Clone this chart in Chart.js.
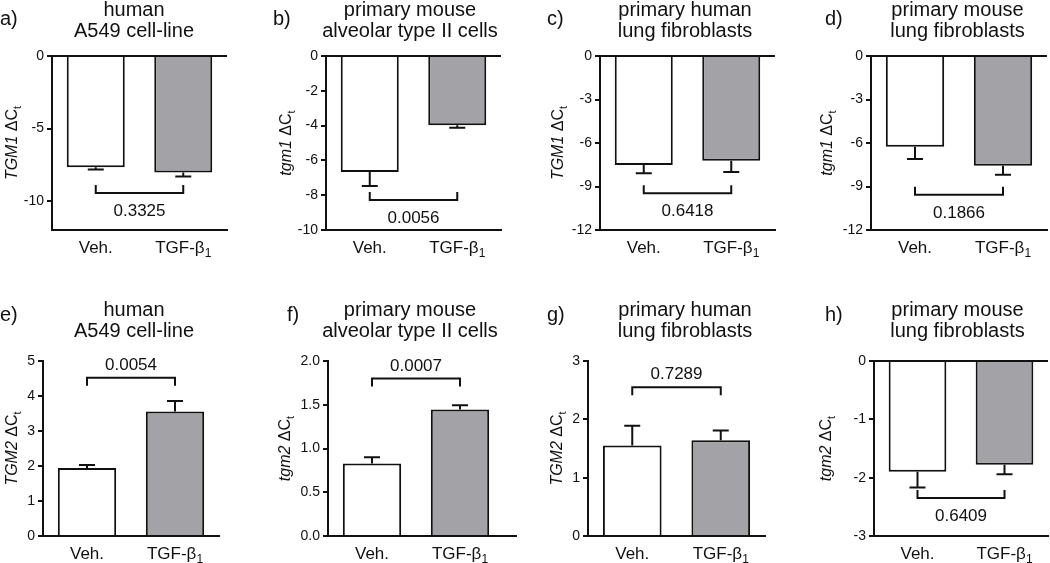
<!DOCTYPE html>
<html><head><meta charset="utf-8">
<script src="https://cdn.jsdelivr.net/npm/chart.js@4.4.1/dist/chart.umd.min.js"></script>
<style>
html,body{margin:0;padding:0;background:#fff;}
body{width:1050px;height:563px;overflow:hidden;position:relative;}
canvas{position:absolute;}
</style>
</head><body>
<script>
// ---------------- DATA ----------------
const categories = ['Veh.', 'TGF-β1'];
const categoryMain = ['Veh.', 'TGF-β'];
const categorySub = ['', '1'];
const panelLetters = ['a)', 'b)', 'c)', 'd)', 'e)', 'f)', 'g)', 'h)'];
const titleLine1 = ['human', 'primary mouse', 'primary human', 'primary mouse', 'human', 'primary mouse', 'primary human', 'primary mouse'];
const titleLine2 = ['A549 cell-line', 'alveolar type II cells', 'lung fibroblasts', 'lung fibroblasts', 'A549 cell-line', 'alveolar type II cells', 'lung fibroblasts', 'lung fibroblasts'];
const geneLabels = ['TGM1', 'tgm1', 'TGM1', 'tgm1', 'TGM2', 'tgm2', 'TGM2', 'tgm2'];
const vehMeans  = [-7.68, -6.67, -7.52, -6.25, 1.94, 0.83, 1.55, -1.90];
const vehErrors = [0.14, 0.80, 0.57, 0.85, 0.09, 0.07, 0.34, 0.27];
const tgfMeans  = [-8.03, -3.98, -7.22, -7.57, 3.56, 1.445, 1.64, -1.78];
const tgfErrors = [0.28, 0.14, 0.78, 0.62, 0.30, 0.05, 0.17, 0.16];
const pValues = ['0.3325', '0.0056', '0.6418', '0.1866', '0.0054', '0.0007', '0.7289', '0.6409'];
const bracketLevels = [-9.44, -8.28, -9.47, -9.57, 4.52, 1.80, 2.55, -2.35];
const yMins = [-12, -10, -12, -12, 0, 0, 0, -3];
const yMaxs = [0, 0, 0, 0, 5, 2, 3, 0];
const yTickValues = [
  [0, -5, -10],
  [0, -2, -4, -6, -8, -10],
  [0, -3, -6, -9, -12],
  [0, -3, -6, -9, -12],
  [0, 1, 2, 3, 4, 5],
  [0, 0.5, 1, 1.5, 2],
  [0, 1, 2, 3],
  [0, -1, -2, -3]
];
const yTickDecimals = [0, 0, 0, 0, 0, 1, 0, 0];

// ---------------- LAYOUT / STYLE ----------------
const FONT = '"Liberation Sans", Arial, Helvetica, sans-serif';
const INK = '#111';
const GREY = '#a3a3a7';
const layouts = [
  {cx:0,   cy:0,   cw:262, ch:280, L:52,  R:227,  T:56,  B:230, ext:0,  titleX:134,   letterX:0,   yTitleX:11},
  {cx:262, cy:0,   cw:262, ch:280, L:326, R:501,  T:56,  B:230, ext:0,  titleX:410,   letterX:273, yTitleX:285},
  {cx:524, cy:0,   cw:262, ch:280, L:600, R:775,  T:56,  B:230, ext:0,  titleX:685,   letterX:547, yTitleX:557},
  {cx:786, cy:0,   cw:264, ch:280, L:871, R:1047, T:56,  B:230, ext:0,  titleX:957.5, letterX:825, yTitleX:826},
  {cx:0,   cy:280, cw:262, ch:283, L:43,  R:219,  T:361, B:536, ext:0,  titleX:134,   letterX:0,   yTitleX:11},
  {cx:262, cy:280, cw:262, ch:283, L:328, R:504,  T:361, B:536, ext:13, titleX:410,   letterX:287, yTitleX:283.5},
  {cx:524, cy:280, cw:262, ch:283, L:588, R:765,  T:361, B:536, ext:0,  titleX:685,   letterX:547, yTitleX:556},
  {cx:786, cy:280, cw:264, ch:283, L:874, R:1048, T:361, B:536, ext:0,  titleX:957.5, letterX:825, yTitleX:825}
];
const titleBaselines = [[16, 37], [316, 337]];
const letterBaselines = [25, 321];

function drawYTitle(ctx, x, y, gene) {
  ctx.save();
  ctx.translate(x, y);
  ctx.rotate(-Math.PI / 2);
  const f1 = 'italic 16px ' + FONT, f2 = '16px ' + FONT, f3 = '11px ' + FONT;
  ctx.font = f1; const w1 = ctx.measureText(gene + ' ').width;
  ctx.font = f2; const w2 = ctx.measureText('ΔC').width;
  ctx.font = f3; const w3 = ctx.measureText('t').width;
  let sx = -(w1 + w2 + w3) / 2;
  const by = 6;
  ctx.textAlign = 'left'; ctx.textBaseline = 'alphabetic'; ctx.fillStyle = INK;
  ctx.font = f1; ctx.fillText(gene + ' ', sx, by); sx += w1;
  ctx.font = f2; ctx.fillText('ΔC', sx, by); sx += w2;
  ctx.font = f3; ctx.fillText('t', sx, by + 4);
  ctx.restore();
}

function makeDecor(idx) {
  const lay = layouts[idx];
  const row = idx < 4 ? 0 : 1;
  return {
    id: 'decor' + idx,
    afterDraw(chart) {
      const ctx = chart.ctx;
      const xs = chart.scales.x, ys = chart.scales.y;
      const ox = lay.cx, oy = lay.cy;
      ctx.save();
      ctx.fillStyle = INK; ctx.strokeStyle = INK;
      // panel letter
      ctx.font = '20px ' + FONT; ctx.textAlign = 'left'; ctx.textBaseline = 'alphabetic';
      ctx.fillText(panelLetters[idx], lay.letterX - ox, letterBaselines[row] - oy);
      // title
      ctx.textAlign = 'center';
      ctx.fillText(titleLine1[idx], lay.titleX - ox, titleBaselines[row][0] - oy);
      ctx.fillText(titleLine2[idx], lay.titleX - ox, titleBaselines[row][1] - oy);
      // y title
      drawYTitle(ctx, lay.yTitleX - ox, (chart.chartArea.top + chart.chartArea.bottom) / 2, geneLabels[idx]);
      // x-axis extension
      if (lay.ext > 0) {
        ctx.lineWidth = 2; ctx.beginPath();
        ctx.moveTo(chart.chartArea.right - 1, chart.chartArea.bottom);
        ctx.lineTo(chart.chartArea.right + lay.ext, chart.chartArea.bottom);
        ctx.stroke();
      }
      // x labels
      const lb = chart.chartArea.bottom + 23;
      for (let i = 0; i < categories.length; i++) {
        const px = xs.getPixelForTick(i);
        ctx.font = '17px ' + FONT;
        const wm = ctx.measureText(categoryMain[i]).width;
        ctx.font = '12px ' + FONT;
        const ws = categorySub[i] ? ctx.measureText(categorySub[i]).width : 0;
        let sx = px - (wm + ws) / 2;
        ctx.textAlign = 'left';
        ctx.font = '17px ' + FONT; ctx.fillText(categoryMain[i], sx, lb);
        if (ws) { ctx.font = '12px ' + FONT; ctx.fillText(categorySub[i], sx + wm, lb + 4); }
      }
      // error bars
      const means = [vehMeans[idx], tgfMeans[idx]];
      const errs = [vehErrors[idx], tgfErrors[idx]];
      const meta = chart.getDatasetMeta(0);
      ctx.lineWidth = 2;
      for (let i = 0; i < 2; i++) {
        const bx = meta.data[i].x;
        const sign = means[i] < 0 ? -1 : 1;
        const y0 = ys.getPixelForValue(means[i]);
        const y1 = ys.getPixelForValue(means[i] + sign * errs[i]);
        ctx.beginPath();
        ctx.moveTo(bx, y0); ctx.lineTo(bx, y1);
        ctx.moveTo(bx - 8, y1); ctx.lineTo(bx + 8, y1);
        ctx.stroke();
      }
      // bracket + p value
      const negative = yMaxs[idx] <= 0;
      const byy = ys.getPixelForValue(bracketLevels[idx]);
      const x0 = meta.data[0].x, x1 = meta.data[1].x;
      const arm = negative ? -8 : 8;
      ctx.beginPath();
      ctx.moveTo(x0, byy + arm); ctx.lineTo(x0, byy); ctx.lineTo(x1, byy); ctx.lineTo(x1, byy + arm);
      ctx.stroke();
      ctx.font = '17px ' + FONT; ctx.textAlign = 'center'; ctx.textBaseline = 'alphabetic';
      const ty = negative ? byy + 17 + 6 : byy - 14 + 6;
      ctx.fillText(pValues[idx], (x0 + x1) / 2, ty);
      ctx.restore();
    }
  };
}

for (let idx = 0; idx < 8; idx++) {
  const lay = layouts[idx];
  const cv = document.createElement('canvas');
  cv.width = lay.cw; cv.height = lay.ch;
  cv.style.left = lay.cx + 'px'; cv.style.top = lay.cy + 'px';
  cv.style.width = lay.cw + 'px'; cv.style.height = lay.ch + 'px';
  document.body.appendChild(cv);
  const negative = yMaxs[idx] <= 0;
  new Chart(cv.getContext('2d'), {
    type: 'bar',
    data: {
      labels: categories,
      datasets: [{
        data: [vehMeans[idx], tgfMeans[idx]],
        backgroundColor: ['#ffffff', GREY],
        borderColor: INK,
        borderWidth: 2,
        barPercentage: 0.663,
        categoryPercentage: 1.0
      }]
    },
    options: {
      responsive: false,
      animation: false,
      devicePixelRatio: 1,
      layout: {
        autoPadding: false,
        padding: {left: 0, top: lay.T - lay.cy, right: lay.cx + lay.cw - lay.R, bottom: 0}
      },
      plugins: {legend: {display: false}, tooltip: {enabled: false}, title: {display: false}},
      scales: {
        x: {
          type: 'category',
          grid: {display: false},
          border: {display: true, color: INK, width: 2},
          ticks: {display: false},
          afterFit: s => { s.height = lay.cy + lay.ch - lay.B; }
        },
        y: {
          min: yMins[idx], max: yMaxs[idx],
          afterBuildTicks: s => { s.ticks = yTickValues[idx].map(v => ({value: v})); },
          afterFit: s => { s.width = lay.L - lay.cx; },
          border: {display: true, color: INK, width: 2},
          grid: {
            drawOnChartArea: true,
            drawTicks: true,
            tickLength: 5,
            lineWidth: 2,
            tickColor: INK,
            color: c => (negative && c.tick && c.tick.value === 0) ? INK : 'rgba(0,0,0,0)'
          },
          ticks: {
            color: INK,
            padding: 3,
            font: {family: FONT, size: 14},
            callback: v => Number(v).toFixed(yTickDecimals[idx])
          }
        }
      }
    },
    plugins: [makeDecor(idx)]
  });
}
</script>
</body></html>
